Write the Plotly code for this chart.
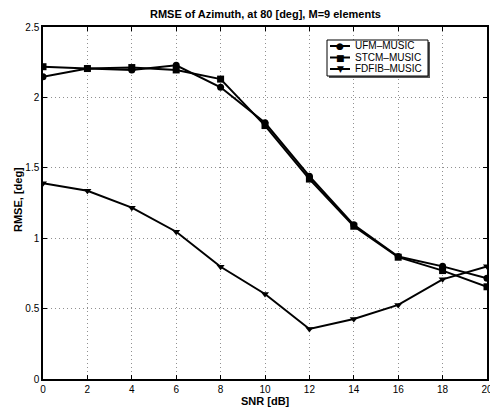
import plotly.graph_objects as go

snr = [0, 2, 4, 6, 8, 10, 12, 14, 16, 18, 20]
ufm_music = [2.147, 2.205, 2.195, 2.228, 2.072, 1.82, 1.44, 1.095, 0.87, 0.80, 0.715]
stcm_music = [2.218, 2.205, 2.212, 2.195, 2.13, 1.80, 1.42, 1.085, 0.865, 0.77, 0.655]
fdfib_music = [1.39, 1.337, 1.217, 1.046, 0.797, 0.604, 0.355, 0.426, 0.526, 0.708, 0.80]

names = ["UFM\u2013MUSIC", "STCM\u2013MUSIC", "FDFIB\u2013MUSIC"]
symbols = ["circle", "square", "triangle-down"]
glyphs = ["\u25cf", "\u25a0", "\u25bc"]
values = [ufm_music, stcm_music, fdfib_music]

font = "Liberation Sans, Arial, Helvetica, sans-serif"

# plot-area geometry in pixels (used only for legend/labels placement)
W, H = 490, 408
L, R, T, B = 43, 3, 27, 29
pw, ph = W - L - R, H - T - B


def px(xp):
    return (xp - L) / pw


def py(yp):
    return (H - B - yp) / ph


fig = go.Figure()
for name, vals, sym in zip(names, values, symbols):
    fig.add_trace(go.Scatter(
        x=snr, y=vals, name=name, mode="lines+markers",
        line=dict(color="black", width=2),
        marker=dict(symbol=sym, size=7, color="black"),
        showlegend=False,
    ))

axis_common = dict(
    showline=True, linecolor="black", linewidth=1.5, mirror="ticks",
    ticks="inside", ticklen=4, tickcolor="black",
    showgrid=True, gridcolor="#909090", griddash="1px,3px", gridwidth=1,
    zeroline=False, tickfont=dict(size=10, color="black", family=font),
    automargin=False, ticklabeloverflow="allow",
)

shapes = []
annotations = []

# legend box
shapes.append(dict(type="rect", xref="paper", yref="paper",
                   x0=px(329), x1=px(430), y0=py(78), y1=py(42),
                   line=dict(width=0), fillcolor="#555555", layer="above"))
shapes.append(dict(type="rect", xref="paper", yref="paper",
                   x0=px(327), x1=px(428), y0=py(76), y1=py(40),
                   line=dict(color="black", width=1), fillcolor="white", layer="above"))
rows = [46, 57.5, 69]
for yy, name, g in zip(rows, names, glyphs):
    shapes.append(dict(type="line", xref="paper", yref="paper",
                       x0=px(330), x1=px(350), y0=py(yy), y1=py(yy),
                       line=dict(color="black", width=2), layer="above"))
    annotations.append(dict(text=g, xref="paper", yref="paper", x=px(340), y=py(yy),
                            xanchor="center", yanchor="middle", showarrow=False,
                            font=dict(size=9, color="black", family="DejaVu Sans")))
    annotations.append(dict(text=name, xref="paper", yref="paper", x=px(353), y=py(yy),
                            xanchor="left", yanchor="middle", showarrow=False,
                            font=dict(size=10, color="black", family=font)))

# axis titles
annotations.append(dict(text="<b>SNR [dB]</b>", xref="paper", yref="paper",
                        x=0.5, y=py(401), xanchor="center", yanchor="middle",
                        showarrow=False, font=dict(size=11, color="black", family=font)))
annotations.append(dict(text="<b>RMSE, [deg]</b>", xref="paper", yref="paper",
                        x=px(18), y=py(200), xanchor="center", yanchor="middle",
                        textangle=-90, showarrow=False,
                        font=dict(size=11, color="black", family=font)))
annotations.append(dict(text="<b>RMSE of Azimuth, at 80 [deg], M=9 elements</b>",
                        xref="paper", yref="paper", x=0.5, y=py(14),
                        xanchor="center", yanchor="middle", showarrow=False,
                        font=dict(size=11, color="black", family=font)))

fig.update_layout(
    width=W, height=H,
    margin=dict(l=L, r=R, t=T, b=B),
    paper_bgcolor="white", plot_bgcolor="white",
    font=dict(family=font, color="black"),
    xaxis=dict(range=[0, 20], tickmode="array", tickvals=list(range(0, 21, 2)),
               **axis_common),
    yaxis=dict(range=[0, 2.5], tickmode="array", tickvals=[0, 0.5, 1, 1.5, 2, 2.5],
               ticktext=["0", "0.5", "1", "1.5", "2", "2.5"],
               **axis_common),
    shapes=shapes,
    annotations=annotations,
    showlegend=False,
)

fig.write_html("out.html", config={"displayModeBar": False},
               post_script="document.body.style.margin='0px';document.body.style.overflow='hidden';")
